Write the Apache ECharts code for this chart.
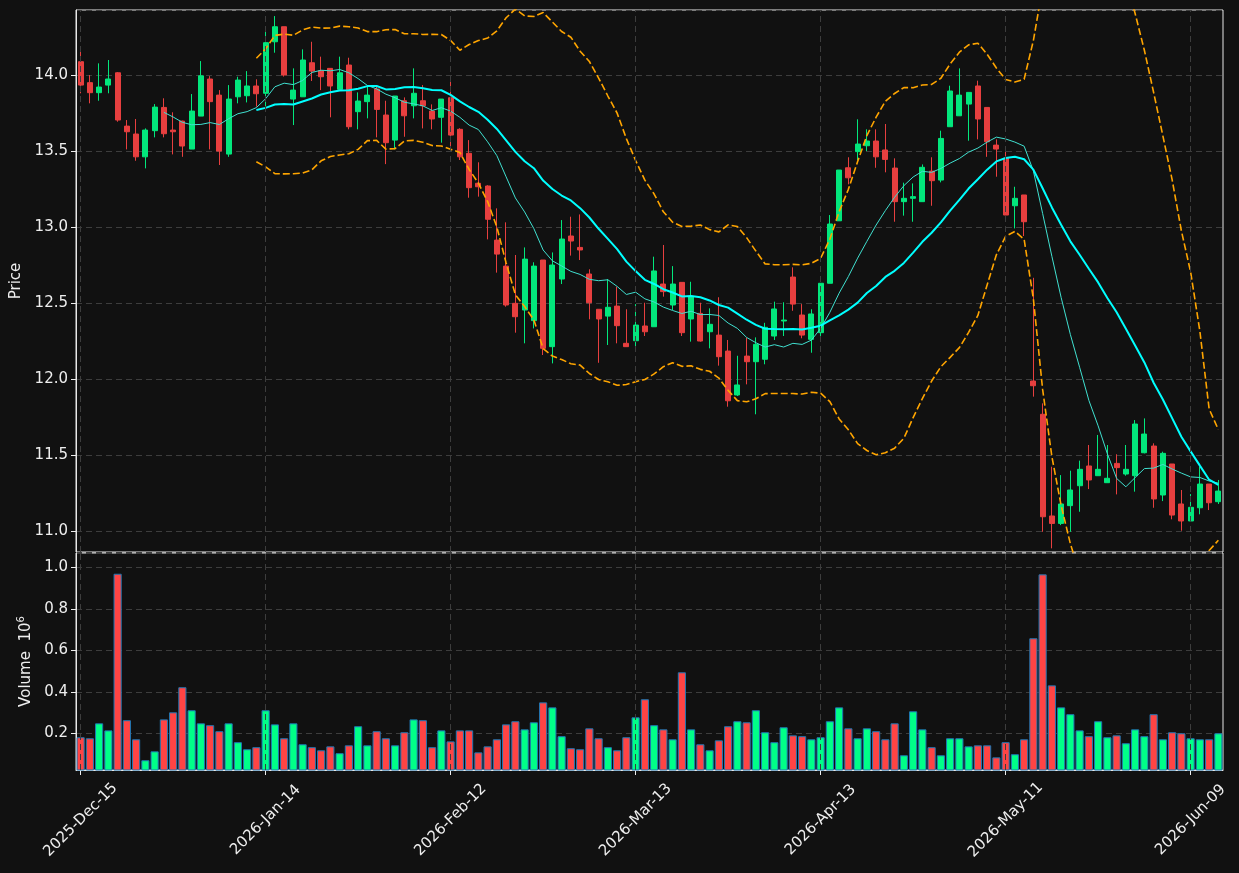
<!DOCTYPE html>
<html>
<head>
<meta charset="utf-8">
<title>Price / Volume</title>
<script src="https://cdn.jsdelivr.net/npm/echarts@6/dist/echarts.min.js"></script>
<style>
  html, body { margin: 0; padding: 0; background: #111111; }
  #chart { width: 1239px; height: 873px; }
</style>
</head>
<body>
<div id="chart"></div>
<script>
// trading days (category axis)
const dates = [
  '2025-Dec-15','2025-Dec-16','2025-Dec-17','2025-Dec-18','2025-Dec-19','2025-Dec-22','2025-Dec-23','2025-Dec-24','2025-Dec-26','2025-Dec-29','2025-Dec-30','2025-Dec-31',
  '2026-Jan-02','2026-Jan-05','2026-Jan-06','2026-Jan-07','2026-Jan-08','2026-Jan-09','2026-Jan-12','2026-Jan-13','2026-Jan-14','2026-Jan-15','2026-Jan-16','2026-Jan-20','2026-Jan-21','2026-Jan-22','2026-Jan-23','2026-Jan-26','2026-Jan-27','2026-Jan-28','2026-Jan-29','2026-Jan-30',
  '2026-Feb-02','2026-Feb-03','2026-Feb-04','2026-Feb-05','2026-Feb-06','2026-Feb-09','2026-Feb-10','2026-Feb-11','2026-Feb-12','2026-Feb-13','2026-Feb-17','2026-Feb-18','2026-Feb-19','2026-Feb-20','2026-Feb-23','2026-Feb-24','2026-Feb-25','2026-Feb-26','2026-Feb-27',
  '2026-Mar-02','2026-Mar-03','2026-Mar-04','2026-Mar-05','2026-Mar-06','2026-Mar-09','2026-Mar-10','2026-Mar-11','2026-Mar-12','2026-Mar-13','2026-Mar-16','2026-Mar-17','2026-Mar-18','2026-Mar-19','2026-Mar-20','2026-Mar-23','2026-Mar-24','2026-Mar-25','2026-Mar-26','2026-Mar-27','2026-Mar-30','2026-Mar-31',
  '2026-Apr-01','2026-Apr-02','2026-Apr-06','2026-Apr-07','2026-Apr-08','2026-Apr-09','2026-Apr-10','2026-Apr-13','2026-Apr-14','2026-Apr-15','2026-Apr-16','2026-Apr-17','2026-Apr-20','2026-Apr-21','2026-Apr-22','2026-Apr-23','2026-Apr-24','2026-Apr-27','2026-Apr-28','2026-Apr-29','2026-Apr-30',
  '2026-May-01','2026-May-04','2026-May-05','2026-May-06','2026-May-07','2026-May-08','2026-May-11','2026-May-12','2026-May-13','2026-May-14','2026-May-15','2026-May-18','2026-May-19','2026-May-20','2026-May-21','2026-May-22','2026-May-26','2026-May-27','2026-May-28','2026-May-29',
  '2026-Jun-01','2026-Jun-02','2026-Jun-03','2026-Jun-04','2026-Jun-05','2026-Jun-08','2026-Jun-09','2026-Jun-10','2026-Jun-11','2026-Jun-12'
]

// OHLC
const opens = [
  14.088,13.950,13.884,13.934,14.015,13.664,13.612,13.462,13.634,13.787,13.638,13.697,13.513,13.730,13.974,13.868,13.480,13.857,13.864,13.928,
  13.880,14.219,14.318,13.842,13.857,14.081,14.029,14.044,13.906,14.066,13.759,13.825,13.908,13.737,13.572,13.831,13.798,13.831,13.763,13.722,
  13.851,13.643,13.485,13.288,13.270,12.914,12.743,12.498,12.454,12.384,12.783,12.213,12.658,12.941,12.866,12.691,12.459,12.414,12.480,12.235,
  12.252,12.349,12.344,12.625,12.487,12.636,12.395,12.432,12.311,12.289,12.184,11.895,12.151,12.114,12.130,12.283,12.382,12.671,12.421,12.261,
  12.305,12.630,13.041,13.390,13.496,13.535,13.566,13.507,13.388,13.167,13.189,13.167,13.368,13.309,13.660,13.732,13.809,13.928,13.787,13.539,
  13.452,13.140,13.211,11.987,11.768,11.099,11.050,11.167,11.298,11.428,11.364,11.318,11.445,11.375,11.364,11.515,11.559,11.237,11.441,11.178,
  11.066,11.153,11.309,11.193
]
const closes = [
  13.934,13.884,13.921,13.974,13.704,13.627,13.462,13.638,13.789,13.614,13.627,13.533,13.763,13.995,13.825,13.500,13.842,13.967,13.928,13.877,
  14.213,14.318,14.000,13.901,14.099,14.026,13.989,13.928,14.015,13.660,13.829,13.868,13.774,13.555,13.862,13.732,13.880,13.798,13.711,13.842,
  13.605,13.462,13.259,13.265,13.051,12.822,12.487,12.410,12.789,12.743,12.202,12.750,12.921,12.908,12.849,12.502,12.395,12.472,12.351,12.213,
  12.355,12.311,12.711,12.575,12.625,12.305,12.542,12.250,12.360,12.147,11.857,11.961,12.114,12.228,12.340,12.461,12.388,12.493,12.289,12.428,
  12.630,13.020,13.375,13.324,13.546,13.566,13.462,13.445,13.167,13.189,13.200,13.393,13.305,13.583,13.895,13.868,13.886,13.711,13.561,13.513,
  13.079,13.189,13.035,11.956,11.094,11.050,11.178,11.270,11.406,11.336,11.406,11.347,11.417,11.406,11.704,11.638,11.211,11.511,11.105,11.066,
  11.156,11.309,11.186,11.263
]
const lows = [
  13.880,13.814,13.831,13.880,13.693,13.511,13.436,13.386,13.590,13.590,13.478,13.462,13.513,13.730,13.511,13.408,13.462,13.814,13.820,13.792,
  13.770,14.147,13.990,13.671,13.857,13.961,13.901,13.722,13.906,13.643,13.643,13.715,13.590,13.414,13.511,13.594,13.715,13.649,13.643,13.555,
  13.528,13.441,13.193,13.200,12.919,12.700,12.476,12.305,12.235,12.333,12.158,12.103,12.625,12.812,12.783,12.393,12.107,12.224,12.235,12.213,
  12.213,12.283,12.344,12.542,12.454,12.283,12.246,12.246,12.202,12.088,11.818,11.888,11.965,11.768,12.097,12.257,12.283,12.449,12.268,12.173,
  12.257,12.630,13.041,13.281,13.441,13.500,13.390,13.360,13.035,13.075,13.035,13.167,13.140,13.294,13.660,13.732,13.568,13.577,13.462,13.331,
  13.079,12.991,12.941,11.884,10.995,10.886,11.039,10.995,11.127,11.276,11.364,11.318,11.241,11.364,11.259,11.511,11.153,11.197,11.077,11.002,
  11.061,11.110,11.138,11.178
]
const highs = [
  14.186,14.000,14.077,14.099,14.020,13.704,13.711,13.649,13.809,13.847,13.755,13.700,13.875,14.092,13.993,13.901,13.934,13.989,14.026,13.972,
  14.285,14.388,14.318,14.044,14.169,14.219,14.121,14.044,14.121,14.114,13.886,13.923,13.934,13.831,13.862,13.853,14.044,13.934,13.807,13.842,
  13.989,13.650,13.572,13.426,13.275,13.123,13.031,12.816,12.866,12.768,12.783,12.833,13.046,13.068,13.083,12.722,12.459,12.658,12.607,12.459,
  12.493,12.502,12.805,12.882,12.743,12.636,12.640,12.502,12.465,12.538,12.257,12.153,12.272,12.274,12.370,12.509,12.505,12.735,12.493,12.459,
  12.630,13.079,13.375,13.459,13.709,13.643,13.643,13.678,13.452,13.292,13.287,13.412,13.459,13.634,13.930,14.044,13.886,13.963,13.787,13.577,
  13.500,13.265,13.211,12.666,11.840,11.423,11.368,11.397,11.463,11.566,11.632,11.566,11.505,11.566,11.730,11.741,11.577,11.522,11.441,11.270,
  11.243,11.423,11.309,11.336
]
// volume in millions
const volumes = [
  0.181,0.176,0.248,0.214,0.969,0.263,0.171,0.070,0.113,0.267,0.301,0.422,0.311,0.248,0.239,0.210,0.248,0.157,0.123,0.133,
  0.311,0.243,0.176,0.248,0.147,0.133,0.118,0.137,0.104,0.142,0.234,0.142,0.210,0.176,0.142,0.205,0.267,0.263,0.133,0.214,
  0.161,0.214,0.214,0.108,0.137,0.171,0.243,0.258,0.219,0.253,0.349,0.325,0.186,0.128,0.123,0.224,0.176,0.133,0.118,0.181,
  0.277,0.364,0.239,0.219,0.171,0.494,0.219,0.147,0.118,0.166,0.234,0.258,0.253,0.311,0.205,0.157,0.229,0.190,0.186,0.171,
  0.181,0.258,0.325,0.224,0.176,0.224,0.210,0.171,0.248,0.094,0.306,0.219,0.133,0.094,0.176,0.176,0.137,0.142,0.142,0.084,
  0.157,0.099,0.171,0.658,0.966,0.431,0.325,0.292,0.214,0.186,0.258,0.181,0.190,0.152,0.219,0.186,0.292,0.171,0.205,0.200,
  0.176,0.171,0.171,0.200
]

const maShort = 10
const maLong = 20
const tickEvery = 20

const UP = '#02e77c', DOWN = '#e73f3f'
const VOL_UP = '#00ff88', VOL_DOWN = '#ff4444'
const FG = '#eeeeee'
const GRID = '#3d3d3d'
const FS = 15

// rolling mean / std of the closes
function rolling(n, fn) {
  return closes.map((_, i) => i < n - 1 ? null : fn(closes.slice(i - n + 1, i + 1)))
}
const mean = a => a.reduce((s, v) => s + v, 0) / a.length
const sd = a => { const m = mean(a); return Math.sqrt(a.reduce((s, v) => s + (v - m) * (v - m), 0) / (a.length - 1)) }
const ma10 = rolling(maShort, mean)
const ma20 = rolling(maLong, mean)
const bbUp = rolling(maLong, a => mean(a) + 2 * sd(a))
const bbLow = rolling(maLong, a => mean(a) - 2 * sd(a))

const candles = dates.map((_, i) => [opens[i], closes[i], lows[i], highs[i]])
const volBars = volumes.map((v, i) => ({
  value: v,
  itemStyle: { color: closes[i] >= opens[i] ? VOL_UP : VOL_DOWN }
}))
const vLines = dates.filter((_, i) => i % tickEvery === 0).map(d => ({ xAxis: d }))

const isTick = i => i % tickEvery === 0
const font = 'DejaVu Sans'

const chart = echarts.init(document.getElementById('chart'))
chart.setOption({
  animation: false,
  backgroundColor: '#111111',
  textStyle: { fontFamily: font },
  grid: [
    { left: 76, top: 10, width: 1147, height: 542, show: true, borderColor: '#e8e8e8', borderWidth: 1, backgroundColor: '#111111' },
    { left: 76, top: 553, width: 1147, height: 217, show: true, borderColor: '#e8e8e8', borderWidth: 1, backgroundColor: '#111111' }
  ],
  xAxis: [
    {
      type: 'category', gridIndex: 0, data: dates, boundaryGap: true,
      axisLine: { show: false }, axisTick: { show: false }, axisLabel: { show: false },
      splitLine: { show: false }
    },
    {
      type: 'category', gridIndex: 1, data: dates, boundaryGap: true,
      axisLine: { show: true, lineStyle: { color: '#e8e8e8' } },
      axisTick: { show: true, interval: i => isTick(i), alignWithLabel: true, length: 5, lineStyle: { color: FG } },
      axisLabel: {
        interval: i => isTick(i), rotate: 45, align: 'center', verticalAlign: 'middle',
        margin: 50, color: FG, fontSize: FS, fontFamily: font
      },
      splitLine: { show: false }
    }
  ],
  yAxis: [
    {
      type: 'value', gridIndex: 0, min: 10.862, max: 14.428, splitNumber: 7,
      name: 'Price', nameLocation: 'middle', nameGap: 51,
      nameTextStyle: { color: FG, fontSize: FS, fontFamily: font },
      axisLine: { show: true, lineStyle: { color: '#e8e8e8' } },
      axisTick: { show: true, length: 5, lineStyle: { color: FG } },
      axisLabel: { color: FG, fontSize: FS, margin: 8, showMinLabel: false, showMaxLabel: false,
        formatter: v => v.toFixed(1) },
      splitLine: { show: true, lineStyle: { color: GRID, type: [6, 4], width: 1 } }
    },
    {
      type: 'value', gridIndex: 1, min: 0.023, max: 1.069, splitNumber: 5,
      name: 'Volume  10{s|6}', nameLocation: 'middle', nameGap: 40,
      nameTextStyle: { color: FG, fontSize: FS, fontFamily: font,
        rich: { s: { fontSize: 10, verticalAlign: 'top', color: FG, padding: [0, 0, 8, 0] } } },
      axisLine: { show: true, lineStyle: { color: '#e8e8e8' } },
      axisTick: { show: true, length: 5, lineStyle: { color: FG } },
      axisLabel: { color: FG, fontSize: FS, margin: 8, showMinLabel: false, showMaxLabel: false,
        formatter: v => v.toFixed(1) },
      splitLine: { show: true, lineStyle: { color: GRID, type: [6, 4], width: 1 } }
    }
  ],
  series: [
    {
      // vertical grid lines at the date ticks
      type: 'line', xAxisIndex: 0, yAxisIndex: 0, data: [], z: 0, silent: true,
      markLine: { symbol: 'none', silent: true, label: { show: false },
        lineStyle: { color: GRID, type: [6, 4], width: 1 }, data: vLines }
    },
    {
      type: 'line', xAxisIndex: 1, yAxisIndex: 1, data: [], z: 0, silent: true,
      markLine: { symbol: 'none', silent: true, label: { show: false },
        lineStyle: { color: GRID, type: [6, 4], width: 1 }, data: vLines }
    },
    {
      name: 'OHLC', type: 'candlestick', xAxisIndex: 0, yAxisIndex: 0, data: candles,
      barWidth: '58%',
      itemStyle: { color: UP, color0: DOWN, borderColor: UP, borderColor0: DOWN, borderWidth: 1 }
    },
    {
      name: 'MA10', type: 'line', xAxisIndex: 0, yAxisIndex: 0, data: ma10,
      showSymbol: false, lineStyle: { color: '#40e0d0', width: 1 }, z: 3
    },
    {
      name: 'MA20', type: 'line', xAxisIndex: 0, yAxisIndex: 0, data: ma20,
      showSymbol: false, lineStyle: { color: '#00ffff', width: 2 }, z: 3
    },
    {
      name: 'BB upper', type: 'line', xAxisIndex: 0, yAxisIndex: 0, data: bbUp,
      showSymbol: false, lineStyle: { color: '#ffa500', width: 1.6, type: [7, 3] }, z: 3
    },
    {
      name: 'BB lower', type: 'line', xAxisIndex: 0, yAxisIndex: 0, data: bbLow,
      showSymbol: false, lineStyle: { color: '#ffa500', width: 1.6, type: [7, 3] }, z: 3
    },
    {
      name: 'Volume', type: 'bar', xAxisIndex: 1, yAxisIndex: 1, data: volBars,
      barWidth: '88%',
      itemStyle: { borderColor: '#1f77b4', borderWidth: 1 }
    }
  ]
})
</script>
</body>
</html>
